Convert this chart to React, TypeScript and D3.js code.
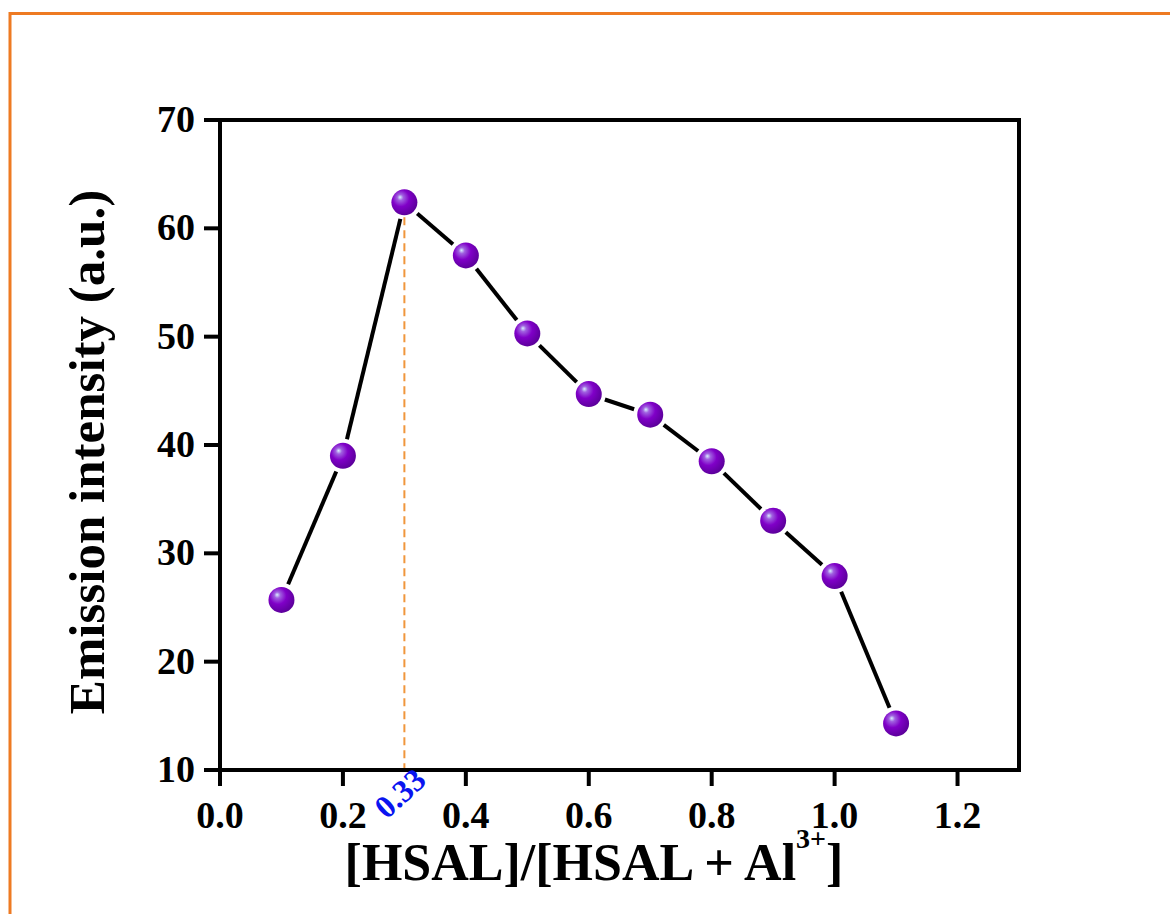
import React from "react";
import * as d3 from "d3";

const ratios = [0.1, 0.2, 0.3, 0.4, 0.5, 0.6, 0.7, 0.8, 0.9, 1.0, 1.1];
const intensity = [25.7, 39.0, 62.4, 57.5, 50.3, 44.7, 42.8, 38.5, 33.0, 27.9, 14.3];
const xTicks = [0, 0.2, 0.4, 0.6, 0.8, 1.0, 1.2];
const yTicks = [10, 20, 30, 40, 50, 60, 70];
const peakX = 0.3;
const peakLabel = "0.33";

const W = 1170;
const H = 914;
const M = { left: 220, right: 1019, top: 120, bottom: 770 };
const FONT = "'Liberation Serif', 'Times New Roman', serif";

export default function App() {
  const x = d3.scaleLinear().domain([0, 1.3]).range([M.left, M.right]);
  const y = d3.scaleLinear().domain([10, 70]).range([M.bottom, M.top]);
  const r = 13;
  const gap = r + 4;
  const pts = ratios.map((v, i) => [x(v), y(intensity[i])] as [number, number]);
  const segs = pts.slice(1).map((p, i) => {
    const a = pts[i];
    const dx = p[0] - a[0];
    const dy = p[1] - a[1];
    const len = Math.hypot(dx, dy);
    const ux = dx / len;
    const uy = dy / len;
    return [a[0] + ux * gap, a[1] + uy * gap, p[0] - ux * gap, p[1] - uy * gap];
  });
  const peakIdx = ratios.indexOf(peakX);

  return (
    <svg width={W} height={H} style={{ position: "absolute", left: 0, top: 0 }}>
      <defs>
        <radialGradient id="ball" cx="0.4" cy="0.38" r="0.65" fx="0.33" fy="0.3">
          <stop offset="0" stopColor="#d8f0ff" />
          <stop offset="0.18" stopColor="#a060e0" />
          <stop offset="0.5" stopColor="#8000c8" />
          <stop offset="1" stopColor="#5a0098" />
        </radialGradient>
      </defs>
      <rect x={0} y={0} width={W} height={H} fill="#fff" />
      <rect x={10} y={13.5} width={W + 20} height={H + 20} fill="none" stroke="#ee7a22" strokeWidth={3} />

      {/* dashed peak line */}
      <line
        x1={x(peakX)} x2={x(peakX)} y1={y(intensity[peakIdx]) + r + 2} y2={M.bottom}
        stroke="#f0963c" strokeWidth={2} strokeDasharray="8,5"
      />

      {/* frame */}
      <rect x={M.left} y={M.top} width={M.right - M.left} height={M.bottom - M.top}
        fill="none" stroke="#000" strokeWidth={4} />

      {/* x ticks */}
      {xTicks.map((t) => (
        <g key={"x" + t}>
          <line x1={x(t)} x2={x(t)} y1={M.bottom} y2={M.bottom + 16} stroke="#000" strokeWidth={4} />
          <text x={x(t)} y={M.bottom + 58} textAnchor="middle" fontFamily={FONT} fontWeight="bold" fontSize={38}>
            {t.toFixed(1)}
          </text>
        </g>
      ))}
      {/* y ticks */}
      {yTicks.map((t) => (
        <g key={"y" + t}>
          <line x1={M.left - 16} x2={M.left} y1={y(t)} y2={y(t)} stroke="#000" strokeWidth={4} />
          <text x={M.left - 25} y={y(t) + 12} textAnchor="end" fontFamily={FONT} fontWeight="bold" fontSize={38}>
            {t}
          </text>
        </g>
      ))}

      {/* peak label */}
      <text
        transform={`translate(${x(peakX) - 18},${M.bottom + 50}) rotate(-42)`}
        fontFamily={FONT} fontWeight="bold" fontSize={32} fill="#0a14f0"
      >
        {peakLabel}
      </text>

      {/* line */}
      {segs.map((s, i) => (
        <line key={"s" + i} x1={s[0]} y1={s[1]} x2={s[2]} y2={s[3]} stroke="#000" strokeWidth={4} strokeLinecap="butt" />
      ))}
      {/* markers */}
      {pts.map((p, i) => (
        <circle key={"p" + i} cx={p[0]} cy={p[1]} r={r} fill="url(#ball)" />
      ))}

      {/* axis titles */}
      <text x={594} y={880} textAnchor="middle" fontFamily={FONT} fontWeight="bold" fontSize={52}>
        [HSAL]/[HSAL + Al<tspan dy={-32} fontSize={28}>3+</tspan><tspan dy={32}>]</tspan>
      </text>
      <text
        transform={`translate(104,452) rotate(-90)`}
        textAnchor="middle" fontFamily={FONT} fontWeight="bold" fontSize={51}
      >
        Emission intensity (a.u.)
      </text>
    </svg>
  );
}
